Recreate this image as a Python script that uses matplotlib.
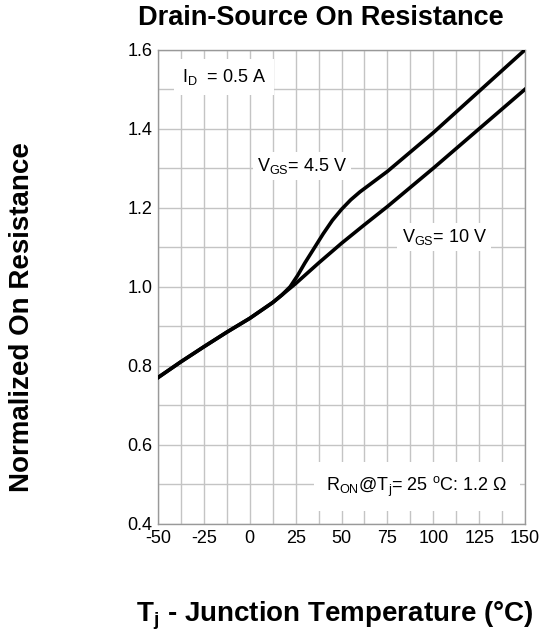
import numpy as np
import matplotlib
matplotlib.use("Agg")
import matplotlib.pyplot as plt

plt.rcParams['font.family'] = ['Liberation Sans', 'DejaVu Sans']
plt.rcParams['mathtext.fontset'] = 'custom'
plt.rcParams['mathtext.rm'] = 'Liberation Sans'
plt.rcParams['mathtext.it'] = 'Liberation Sans'
plt.rcParams['mathtext.bf'] = 'Liberation Sans:bold'

# junction temperature (°C) and normalized on-resistance
t_10v = [-50, -37.5, -25, -12.5, 0, 12.5, 25, 37.5, 50, 62.5, 75, 100, 125, 150]
r_10v = [0.77, 0.81, 0.848, 0.885, 0.92, 0.96, 1.008, 1.06, 1.11, 1.157, 1.203, 1.30, 1.40, 1.50]

t_45v = [-50, -37.5, -25, -12.5, 0, 12.5, 17.5, 22, 26, 30, 35, 40, 45, 50, 55, 60, 67.5, 75, 100, 125, 150]
r_45v = [0.77, 0.81, 0.848, 0.885, 0.92, 0.96, 0.979, 1.0, 1.028, 1.06, 1.097, 1.134, 1.168, 1.196, 1.22, 1.24, 1.266, 1.292, 1.39, 1.495, 1.60]

xticks = [-50, -25, 0, 25, 50, 75, 100, 125, 150]
yticks = [0.4, 0.6, 0.8, 1.0, 1.2, 1.4, 1.6]

fig = plt.figure(figsize=(5.43, 6.4), dpi=100)
ax = fig.add_axes([0.291, 0.1817, 0.676, 0.7406])

ax.plot(t_10v, r_10v, color='black', lw=2.6, solid_joinstyle='round', zorder=3)
ax.plot(t_45v, r_45v, color='black', lw=2.6, solid_joinstyle='round', zorder=3)

ax.set_xlim(-50, 150)
ax.set_ylim(0.4, 1.6)
ax.set_xticks(xticks)
ax.set_yticks(yticks)
ax.set_xticklabels([str(v) for v in xticks])
ax.set_yticklabels(['%.1f' % v for v in yticks])
ax.set_xticks(np.arange(-50, 151, 12.5), minor=True)
ax.set_yticks(np.arange(0.4, 1.61, 0.1), minor=True)
ax.grid(which='both', color='#c4c4c4', lw=1)
ax.set_axisbelow(True)
ax.tick_params(which='both', length=0, labelsize=13)
ax.tick_params(axis='x', pad=4.5)
ax.tick_params(axis='y', pad=4)
for s in ax.spines.values():
    s.set_color('#999999')
    s.set_linewidth(1)

ax.text(-37, 1.531, r'I$_{\rm D}$  = 0.5 A', fontsize=13, va='center', ha='left',
        bbox=dict(facecolor='white', edgecolor='none', pad=6), zorder=4)
ax.text(3.8, 1.305, r'V$_{\rm GS}$= 4.5 V', fontsize=13, va='center', ha='left',
        bbox=dict(facecolor='white', edgecolor='none', pad=3), zorder=4)
ax.text(82.7, 1.125, r'V$_{\rm GS}$= 10 V', fontsize=13, va='center', ha='left',
        bbox=dict(facecolor='white', edgecolor='none', pad=3), zorder=4)
ax.text(140.5, 0.494, r'R$_{\rm ON}$@T$_{\rm j}$= 25 $^{\rm o}$C: 1.2 $\Omega$', fontsize=13,
        va='center', ha='right', bbox=dict(facecolor='white', edgecolor='none', pad=9), zorder=4)

fig.text(0.59, 0.972, 'Drain-Source On Resistance', fontsize=19.5, fontweight='bold',
         ha='center', va='center')
fig.text(0.041, 0.504, 'Normalized On Resistance', fontsize=20, fontweight='bold',
         ha='center', va='center', rotation=90)
fig.text(0.617, 0.037, r'T$_{\mathbf{j}}$ - Junction Temperature (°C)', fontsize=20, fontweight='bold',
         ha='center', va='center')

fig.savefig('out.png', dpi=100)
